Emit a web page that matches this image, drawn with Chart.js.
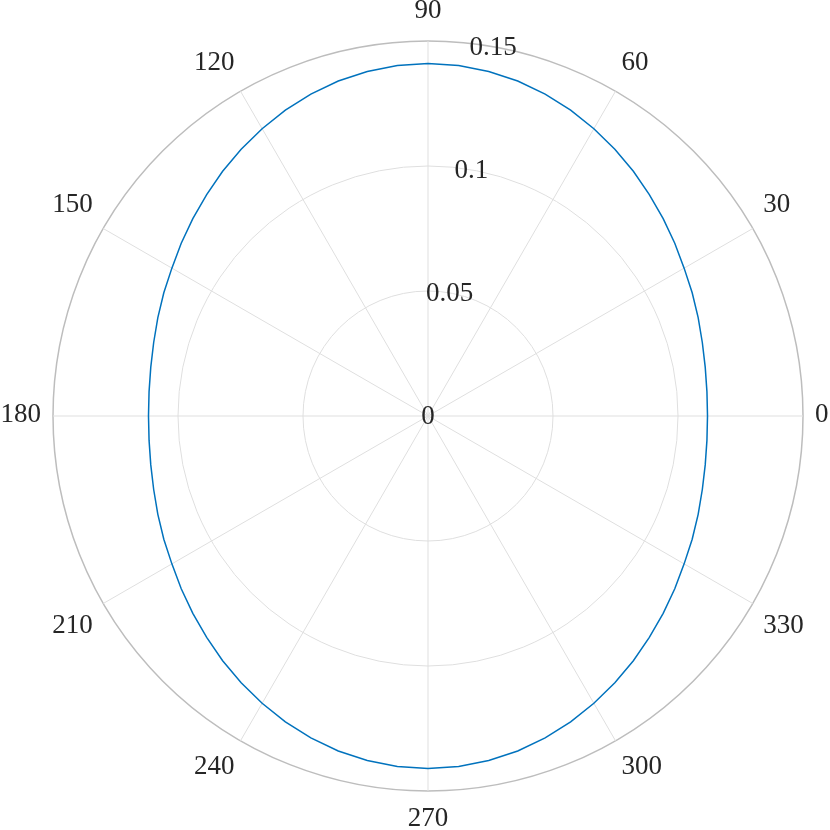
<!DOCTYPE html>
<html>
<head>
<meta charset="utf-8">
<script src="https://cdn.jsdelivr.net/npm/chart.js@4"></script>
<style>
  body { margin: 0; background: #fff; }
  #wrap { width: 830px; height: 830px; }
</style>
</head>
<body>
<div id="wrap"><canvas id="polarChart"></canvas></div>
<script>
// angles (deg, counter-clockwise from +x) and radius
const thetaDeg = [0, 5, 10, 15, 20, 25, 30, 35, 40, 45, 50, 55, 60, 65, 70, 75, 80, 85,
                  90, 95, 100, 105, 110, 115, 120, 125, 130, 135, 140, 145, 150, 155, 160, 165, 170, 175,
                  180, 185, 190, 195, 200, 205, 210, 215, 220, 225, 230, 235, 240, 245, 250, 255, 260, 265,
                  270, 275, 280, 285, 290, 295, 300, 305, 310, 315, 320, 325, 330, 335, 340, 345, 350, 355];
const rValues = [0.1118, 0.1120, 0.1126, 0.1136, 0.1150, 0.1166, 0.1183, 0.1205, 0.1228, 0.1252, 0.1278, 0.1303, 0.1327, 0.1350, 0.1370, 0.1387, 0.1399, 0.1407,
                 0.1410, 0.1407, 0.1399, 0.1387, 0.1370, 0.1350, 0.1327, 0.1303, 0.1278, 0.1252, 0.1228, 0.1205, 0.1183, 0.1166, 0.1150, 0.1136, 0.1126, 0.1120,
                 0.1118, 0.1120, 0.1126, 0.1136, 0.1150, 0.1166, 0.1183, 0.1205, 0.1228, 0.1252, 0.1278, 0.1303, 0.1327, 0.1350, 0.1370, 0.1387, 0.1399, 0.1407,
                 0.1410, 0.1407, 0.1399, 0.1387, 0.1370, 0.1350, 0.1327, 0.1303, 0.1278, 0.1252, 0.1228, 0.1205, 0.1183, 0.1166, 0.1150, 0.1136, 0.1126, 0.1120];

// tick labels
const thetaTicks = [0, 30, 60, 90, 120, 150, 180, 210, 240, 270, 300, 330];
const rTicks = [0, 0.05, 0.1, 0.15];
const rTickLabels = ['0', '0.05', '0.1', '0.15'];
const rTickAngle = 80;

const FONT = '27px "Liberation Serif", "DejaVu Serif", serif';
const TEXT_COLOR = '#262626';

// radar goes clockwise, so walk the angles backwards
const order = thetaDeg.map((t, i) => i).map(i => (thetaDeg.length - i) % thetaDeg.length);
const labels = order.map(i => thetaDeg[i]);
const data = order.map(i => rValues[i]);

function indexForAngle(deg) {
  return labels.indexOf(deg);
}

// draws theta labels round the edge and r labels along 80 deg
const polarLabels = {
  id: 'polarLabels',
  afterDraw(chart) {
    const scale = chart.scales.r;
    const ctx = chart.ctx;
    ctx.save();
    ctx.font = FONT;
    ctx.fillStyle = TEXT_COLOR;
    ctx.textAlign = 'center';
    ctx.textBaseline = 'middle';

    const gap = 12;
    const halfH = 17;
    thetaTicks.forEach(t => {
      const txt = String(t);
      const halfW = ctx.measureText(txt).width / 2;
      const a = t * Math.PI / 180;
      const c = Math.cos(a), s = Math.sin(a);
      // point just outside the ring, then push the box off it sideways/up/down
      const p = scale.getPointPosition(indexForAngle(t), scale.drawingArea + gap);
      const dx = Math.abs(c) > 1e-6 ? Math.sign(c) * halfW : 0;
      const dy = Math.abs(s) > 1e-6 ? -Math.sign(s) * halfH : 0;
      ctx.fillText(txt, p.x + dx, p.y + dy - 1);
    });

    const idx = indexForAngle(rTickAngle);
    rTicks.forEach((v, i) => {
      const p = scale.getPointPositionForValue(idx, v);
      ctx.fillText(rTickLabels[i], p.x, p.y + 1);
    });
    ctx.restore();
  }
};

new Chart(document.getElementById('polarChart'), {
  type: 'radar',
  data: {
    labels: labels,
    datasets: [{
      data: data,
      borderColor: '#0072BD',
      borderWidth: 1.5,
      fill: false,
      tension: 0,
      pointRadius: 0,
      pointHitRadius: 0
    }]
  },
  options: {
    responsive: true,
    maintainAspectRatio: false,
    animation: false,
    layout: { padding: { left: 53, right: 27, top: 41, bottom: 39 } },
    plugins: {
      legend: { display: false },
      tooltip: { enabled: false }
    },
    scales: {
      r: {
        startAngle: 90,
        min: 0,
        max: 0.15,
        ticks: { display: false, stepSize: 0.05 },
        pointLabels: { display: false },
        grid: {
          circular: true,
          color: ctx => (ctx.tick && ctx.tick.value >= 0.149) ? '#bdbdbd' : '#dfdfdf',
          lineWidth: ctx => (ctx.tick && ctx.tick.value >= 0.149) ? 1.5 : 1
        },
        angleLines: {
          color: ctx => (labels[ctx.index] % 30 === 0) ? '#dfdfdf' : 'rgba(0,0,0,0)',
          lineWidth: 1
        }
      }
    }
  },
  plugins: [polarLabels]
});
</script>
</body>
</html>
